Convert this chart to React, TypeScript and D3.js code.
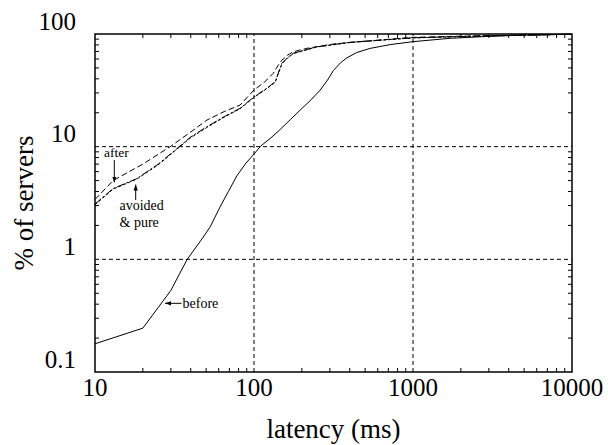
import * as d3 from "d3";

// latency (ms) vs % of servers
const beforeX = [10, 20, 30, 38, 46, 53, 61, 69, 78, 88, 100, 110, 128, 146, 170, 195, 228, 261, 290, 316, 350, 384, 443, 537, 718, 1000, 1714, 2760, 4500, 10000];
const beforeY = [0.178, 0.245, 0.53, 1.0, 1.45, 1.94, 2.9, 4.0, 5.5, 7.0, 8.6, 10.1, 12.0, 14.2, 17.5, 21.1, 26.0, 31.8, 39, 47.5, 55.5, 61.5, 68.5, 74.5, 80.5, 85.5, 91.6, 94.7, 97.5, 99.5];

const afterX = [10, 13, 20, 29.7, 40, 50.5, 65, 81.7, 100, 117, 132, 141, 150, 163, 177, 215, 316, 465, 1000, 2760, 10000];
const afterY = [3.4, 5.0, 7.0, 10, 13.5, 17.2, 20.5, 23.4, 31.8, 37.7, 44.7, 52, 58.7, 65, 69.6, 74.6, 81.5, 85.5, 93.4, 96.6, 99.5];

const avoidedX = [10, 13, 18.3, 25, 32.7, 40, 50.5, 65, 81.7, 100, 120, 136, 143, 150, 163, 177, 248, 403, 1000, 2760, 10000];
const avoidedY = [3.1, 4.25, 5.2, 7.0, 9.6, 12.2, 15, 18.5, 21.9, 27.7, 32.9, 37.7, 46, 55, 62, 67.6, 77, 84.5, 92.5, 96, 99.5];

const pureX = [10, 13, 18.3, 25, 32.7, 40, 50.5, 65, 81.7, 100, 120, 136, 143, 150, 163, 177, 248, 403, 1000, 2760, 10000];
const pureY = [3.05, 4.2, 5.15, 6.9, 9.5, 12.0, 14.8, 18.3, 21.7, 27.4, 32.6, 37.3, 45.5, 54.5, 61.5, 67, 76.6, 84.2, 92.3, 96, 99.5];

const xTickLabels = ["10", "100", "1000", "10000"];
const yTickLabels = ["0.1", "1", "10", "100"];

const W = 608;
const H = 445;
const margin = { left: 95, right: 36, top: 34, bottom: 73 };

export default function App() {
  const x = d3.scaleLog().domain([10, 10000]).range([margin.left, W - margin.right]);
  const y = d3.scaleLog().domain([0.1, 100]).range([H - margin.bottom, margin.top]);
  const [x0, x1] = x.range();
  const [y0, y1] = y.range();

  const line = d3
    .line<[number, number]>()
    .x((d) => x(d[0]))
    .y((d) => y(d[1]));

  const zip = (xs: number[], ys: number[]) => xs.map((v, i) => [v, ys[i]] as [number, number]);

  const series = [
    { pts: zip(beforeX, beforeY), dash: "none" },
    { pts: zip(afterX, afterY), dash: "6,3" },
    { pts: zip(avoidedX, avoidedY), dash: "8,2,2,2" },
    { pts: zip(pureX, pureY), dash: "3,2" },
  ];

  const xMinor = x.ticks().filter((t) => !xTickLabels.includes(String(t)));
  const yMinor = y.ticks().filter((t) => !yTickLabels.includes(String(t)));
  const tl = 4;
  const font = "Liberation Serif";

  return (
    <svg width={W} height={H} style={{ position: "absolute", left: 0, top: 0, background: "#fff" }}>
      <defs>
        <marker id="ah" viewBox="0 0 10 10" refX="10" refY="5" markerWidth="6" markerHeight="6" orient="auto">
          <path d="M0,1.5 L10,5 L0,8.5 z" fill="#000" />
        </marker>
      </defs>

      {/* dashed grid */}
      {[100, 1000].map((t) => (
        <line key={"gx" + t} x1={x(t)} x2={x(t)} y1={y0} y2={y1} stroke="#000" strokeDasharray="4,3" strokeWidth={1} />
      ))}
      {[1, 10].map((t) => (
        <line key={"gy" + t} x1={x0} x2={x1} y1={y(t)} y2={y(t)} stroke="#000" strokeDasharray="4,3" strokeWidth={1} />
      ))}

      {/* minor ticks, inward on all four sides */}
      {xMinor.map((t) => (
        <g key={"tx" + t} stroke="#000">
          <line x1={x(t)} x2={x(t)} y1={y0} y2={y0 - tl} />
          <line x1={x(t)} x2={x(t)} y1={y1} y2={y1 + tl} />
        </g>
      ))}
      {yMinor.map((t) => (
        <g key={"ty" + t} stroke="#000">
          <line x1={x0} x2={x0 + tl} y1={y(t)} y2={y(t)} />
          <line x1={x1} x2={x1 - tl} y1={y(t)} y2={y(t)} />
        </g>
      ))}

      {series.map((s, i) => (
        <path key={i} d={line(s.pts) || ""} fill="none" stroke="#000" strokeWidth={1} strokeDasharray={s.dash} />
      ))}

      <rect x={x0} y={y1} width={x1 - x0} height={y0 - y1} fill="none" stroke="#000" strokeWidth={1.5} />

      {/* tick labels */}
      {xTickLabels.map((t) => (
        <text key={"lx" + t} x={x(+t)} y={y0 + 24} textAnchor="middle" style={{ fontFamily: font }} fontSize={25}>
          {t}
        </text>
      ))}
      {yTickLabels.map((t) => (
        <text key={"ly" + t} x={x0 - 19} y={y(+t) - 4.5} textAnchor="end" style={{ fontFamily: font }} fontSize={25}>
          {t}
        </text>
      ))}

      <text x={(x0 + x1) / 2} y={438} textAnchor="middle" style={{ fontFamily: font }} fontSize={27}>
        latency (ms)
      </text>
      <text transform={`translate(33,${(y0 + y1) / 2}) rotate(-90)`} textAnchor="middle" style={{ fontFamily: font }} fontSize={27}>
        % of servers
      </text>

      {/* annotations */}
      <text x={104} y={156.7} style={{ fontFamily: font }} fontSize={13.5}>after</text>
      <line x1={114.3} x2={114.3} y1={160} y2={182.5} stroke="#000" markerEnd="url(#ah)" />
      <line x1={135.7} x2={135.7} y1={200} y2={184.5} stroke="#000" markerEnd="url(#ah)" />
      <text x={119.5} y={210} style={{ fontFamily: font }} fontSize={14}>avoided</text>
      <text x={119.5} y={226.5} style={{ fontFamily: font }} fontSize={14}>&amp; pure</text>
      <line x1={181.5} x2={165} y1={303.3} y2={303.3} stroke="#000" markerEnd="url(#ah)" />
      <text x={182.5} y={307.5} style={{ fontFamily: font }} fontSize={14}>before</text>
    </svg>
  );
}
